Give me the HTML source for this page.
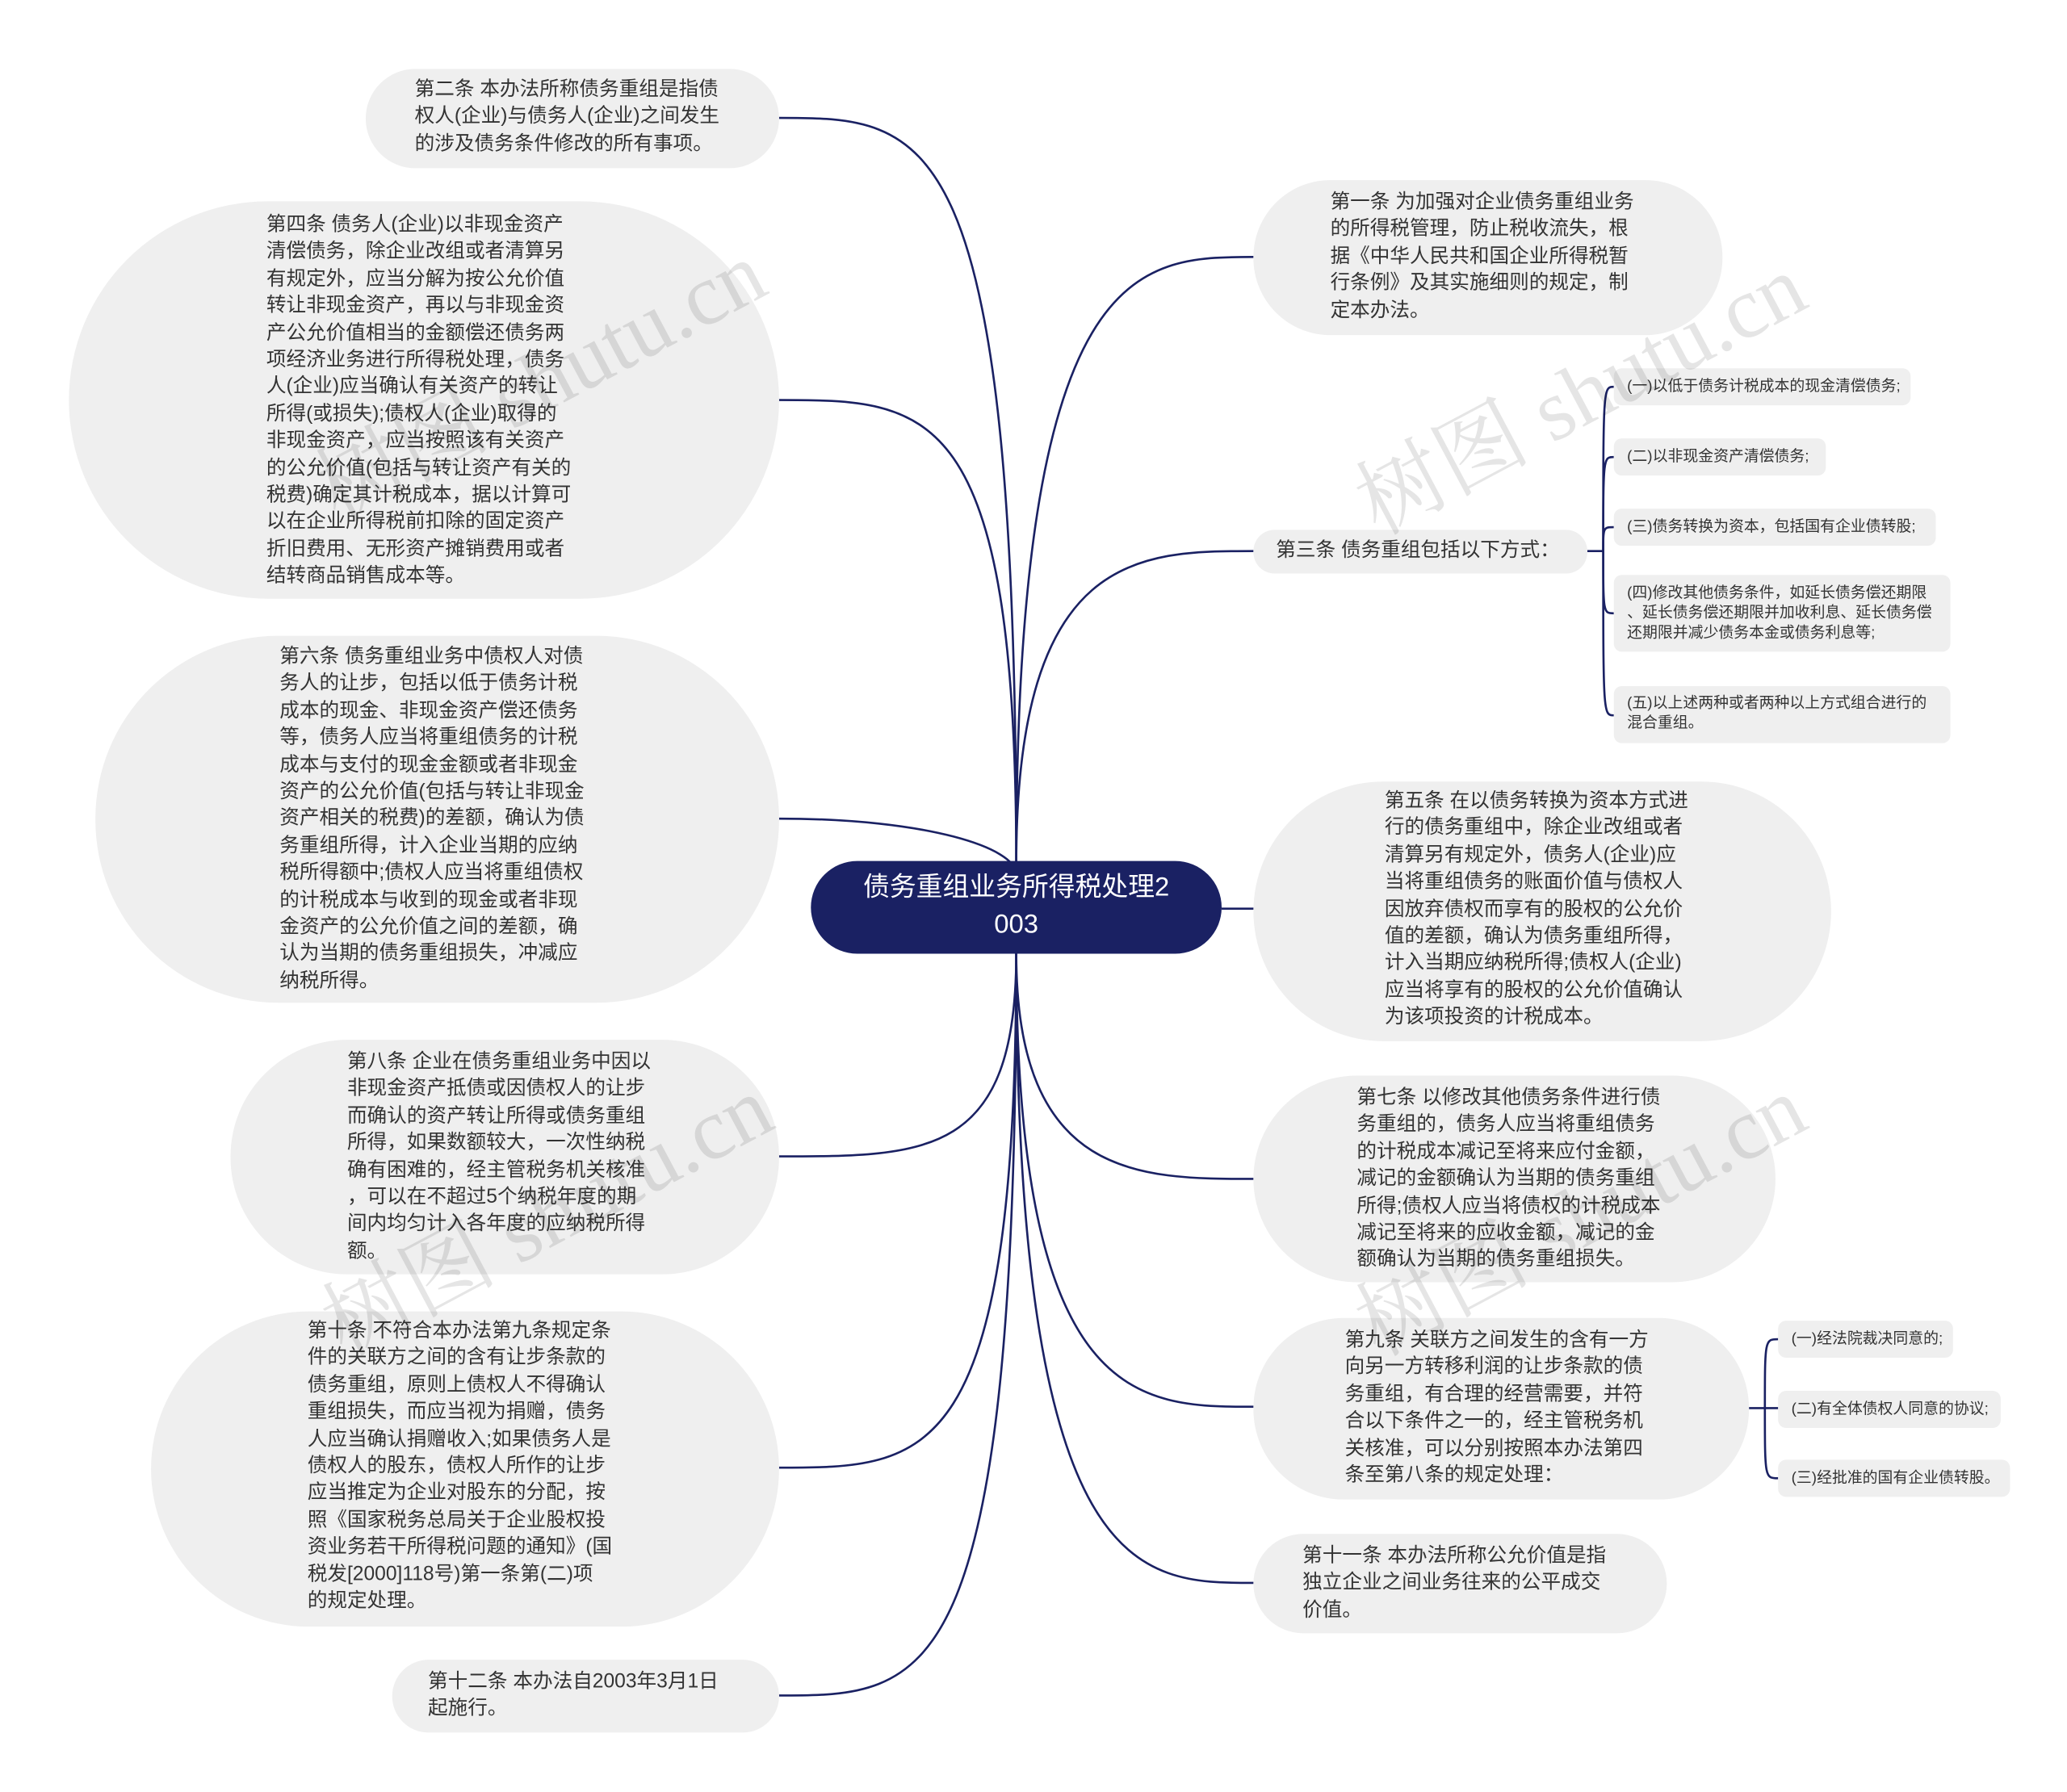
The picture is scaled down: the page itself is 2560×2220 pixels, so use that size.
<!DOCTYPE html>
<html><head><meta charset="utf-8"><style>
html,body{margin:0;padding:0;background:#fff;width:2560px;height:2220px;overflow:hidden}
#w{position:absolute;left:0;top:0;width:1560px;height:1353px;transform:scale(1.641);transform-origin:0 0;font-family:"Liberation Sans","Noto Sans CJK SC",sans-serif;color:#333}
.b{position:absolute;background:#efefef}
.t{position:absolute;font-size:15px;line-height:20.4px;white-space:nowrap}
.s{position:absolute;background:#efefef;border-radius:6px;font-size:11.5px;line-height:15px;white-space:nowrap;padding:0 0 0 10px;box-sizing:border-box;color:#333}
.wm{position:absolute;font-family:"Liberation Serif","Noto Serif CJK SC",serif;font-size:66px;color:rgba(0,0,0,0.1);transform:rotate(-28deg);white-space:nowrap}
svg{position:absolute;left:0;top:0}
</style></head><body><div id="w">
<svg width="1560" height="1353" fill="none" stroke="#1a2163" stroke-width="1.6">
<path d="M767 652 C767 89 700 89 588 89"/>
<path d="M767 652 C767 302 700 302 588 302"/>
<path d="M767 660 C767 640 700 618 588 618"/>
<path d="M767 720 C767 873 700 873 588 873"/>
<path d="M767 720 C767 1108 700 1108 588 1108"/>
<path d="M767 720 C767 1280 700 1280 588 1280"/>
<path d="M767 652 C767 194 860 194 946 194"/>
<path d="M767 652 C767 416 860 416 946 416"/>
<path d="M922 686 L946 686"/>
<path d="M767 720 C767 890 860 890 946 890"/>
<path d="M767 720 C767 1062 860 1062 946 1062"/>
<path d="M767 720 C767 1195 860 1195 946 1195"/>
<path d="M1198 416 L1210 416"/>
<path d="M1210 416 C1210 292 1210 292 1218 292"/>
<path d="M1210 416 C1210 345 1210 345 1218 345"/>
<path d="M1210 416 C1210 398 1210 398 1218 398"/>
<path d="M1210 416 C1210 463 1210 463 1218 463"/>
<path d="M1210 416 C1210 540 1210 540 1218 540"/>
<path d="M1320 1063 L1342 1063"/>
<path d="M1332 1063 C1332 1011 1332 1011 1342 1011"/>
<path d="M1332 1063 C1332 1116 1332 1116 1342 1116"/>
</svg>

<div class="b" style="left:612px;top:650px;width:310px;height:70px;border-radius:35px;background:#1a2163"></div>
<div style="position:absolute;left:612px;top:656px;width:310px;text-align:center;color:#fff;font-size:20px;line-height:28px">债务重组业务所得税处理2<br>003</div>

<div class="b" style="left:276px;top:52px;width:312px;height:75px;border-radius:38px"></div>
<div class="t" style="left:313px;top:58px">第二条 本办法所称债务重组是指债<br>权人(企业)与债务人(企业)之间发生<br>的涉及债务条件修改的所有事项。</div>

<div class="b" style="left:52px;top:152px;width:536px;height:300px;border-radius:150px"></div>
<div class="t" style="left:201px;top:160px">第四条 债务人(企业)以非现金资产<br>清偿债务，除企业改组或者清算另<br>有规定外，应当分解为按公允价值<br>转让非现金资产，再以与非现金资<br>产公允价值相当的金额偿还债务两<br>项经济业务进行所得税处理，债务<br>人(企业)应当确认有关资产的转让<br>所得(或损失);债权人(企业)取得的<br>非现金资产，应当按照该有关资产<br>的公允价值(包括与转让资产有关的<br>税费)确定其计税成本，据以计算可<br>以在企业所得税前扣除的固定资产<br>折旧费用、无形资产摊销费用或者<br>结转商品销售成本等。</div>

<div class="b" style="left:72px;top:480px;width:516px;height:277px;border-radius:138px"></div>
<div class="t" style="left:211px;top:486px">第六条 债务重组业务中债权人对债<br>务人的让步，包括以低于债务计税<br>成本的现金、非现金资产偿还债务<br>等，债务人应当将重组债务的计税<br>成本与支付的现金金额或者非现金<br>资产的公允价值(包括与转让非现金<br>资产相关的税费)的差额，确认为债<br>务重组所得，计入企业当期的应纳<br>税所得额中;债权人应当将重组债权<br>的计税成本与收到的现金或者非现<br>金资产的公允价值之间的差额，确<br>认为当期的债务重组损失，冲减应<br>纳税所得。</div>

<div class="b" style="left:174px;top:785px;width:414px;height:177px;border-radius:88px"></div>
<div class="t" style="left:262px;top:792px">第八条 企业在债务重组业务中因以<br>非现金资产抵债或因债权人的让步<br>而确认的资产转让所得或债务重组<br>所得，如果数额较大，一次性纳税<br>确有困难的，经主管税务机关核准<br>，可以在不超过5个纳税年度的期<br>间内均匀计入各年度的应纳税所得<br>额。</div>

<div class="b" style="left:114px;top:990px;width:474px;height:238px;border-radius:119px"></div>
<div class="t" style="left:232px;top:995px">第十条 不符合本办法第九条规定条<br>件的关联方之间的含有让步条款的<br>债务重组，原则上债权人不得确认<br>重组损失，而应当视为捐赠，债务<br>人应当确认捐赠收入;如果债务人是<br>债权人的股东，债权人所作的让步<br>应当推定为企业对股东的分配，按<br>照《国家税务总局关于企业股权投<br>资业务若干所得税问题的通知》(国<br>税发[2000]118号)第一条第(二)项<br>的规定处理。</div>

<div class="b" style="left:296px;top:1253px;width:292px;height:55px;border-radius:28px"></div>
<div class="t" style="left:323px;top:1260px">第十二条 本办法自2003年3月1日<br>起施行。</div>

<div class="b" style="left:946px;top:136px;width:354px;height:117px;border-radius:58px"></div>
<div class="t" style="left:1004px;top:143px">第一条 为加强对企业债务重组业务<br>的所得税管理，防止税收流失，根<br>据《中华人民共和国企业所得税暂<br>行条例》及其实施细则的规定，制<br>定本办法。</div>

<div class="b" style="left:946px;top:400px;width:252px;height:33px;border-radius:16px"></div>
<div class="t" style="left:963px;top:406px">第三条 债务重组包括以下方式：</div>

<div class="s" style="left:1218px;top:278px;width:224px;height:28px;line-height:28px">(一)以低于债务计税成本的现金清偿债务;</div>
<div class="s" style="left:1218px;top:331px;width:160px;height:28px;line-height:28px">(二)以非现金资产清偿债务;</div>
<div class="s" style="left:1218px;top:384px;width:243px;height:28px;line-height:28px">(三)债务转换为资本，包括国有企业债转股;</div>
<div class="s" style="left:1218px;top:434px;width:254px;height:58px;padding-top:7px">(四)修改其他债务条件，如延长债务偿还期限<br>、延长债务偿还期限并加收利息、延长债务偿<br>还期限并减少债务本金或债务利息等;</div>
<div class="s" style="left:1218px;top:518px;width:254px;height:43px;padding-top:6px">(五)以上述两种或者两种以上方式组合进行的<br>混合重组。</div>

<div class="b" style="left:946px;top:590px;width:436px;height:196px;border-radius:98px"></div>
<div class="t" style="left:1045px;top:595px">第五条 在以债务转换为资本方式进<br>行的债务重组中，除企业改组或者<br>清算另有规定外，债务人(企业)应<br>当将重组债务的账面价值与债权人<br>因放弃债权而享有的股权的公允价<br>值的差额，确认为债务重组所得，<br>计入当期应纳税所得;债权人(企业)<br>应当将享有的股权的公允价值确认<br>为该项投资的计税成本。</div>

<div class="b" style="left:946px;top:812px;width:394px;height:156px;border-radius:78px"></div>
<div class="t" style="left:1024px;top:819px">第七条 以修改其他债务条件进行债<br>务重组的，债务人应当将重组债务<br>的计税成本减记至将来应付金额，<br>减记的金额确认为当期的债务重组<br>所得;债权人应当将债权的计税成本<br>减记至将来的应收金额，减记的金<br>额确认为当期的债务重组损失。</div>

<div class="b" style="left:946px;top:995px;width:374px;height:137px;border-radius:68px"></div>
<div class="t" style="left:1015px;top:1002px">第九条 关联方之间发生的含有一方<br>向另一方转移利润的让步条款的债<br>务重组，有合理的经营需要，并符<br>合以下条件之一的，经主管税务机<br>关核准，可以分别按照本办法第四<br>条至第八条的规定处理：</div>

<div class="s" style="left:1342px;top:997px;width:132px;height:28px;line-height:28px">(一)经法院裁决同意的;</div>
<div class="s" style="left:1342px;top:1050px;width:168px;height:28px;line-height:28px">(二)有全体债权人同意的协议;</div>
<div class="s" style="left:1342px;top:1102px;width:175px;height:28px;line-height:28px">(三)经批准的国有企业债转股。</div>

<div class="b" style="left:946px;top:1158px;width:312px;height:75px;border-radius:38px"></div>
<div class="t" style="left:983px;top:1165px">第十一条 本办法所称公允价值是指<br>独立企业之间业务往来的公平成交<br>价值。</div>

<div class="wm" style="left:220px;top:235px">树图 shutu.cn</div>
<div class="wm" style="left:1005px;top:245px">树图 shutu.cn</div>
<div class="wm" style="left:225px;top:865px">树图 shutu.cn</div>
<div class="wm" style="left:1005px;top:865px">树图 shutu.cn</div>
</div></body></html>
